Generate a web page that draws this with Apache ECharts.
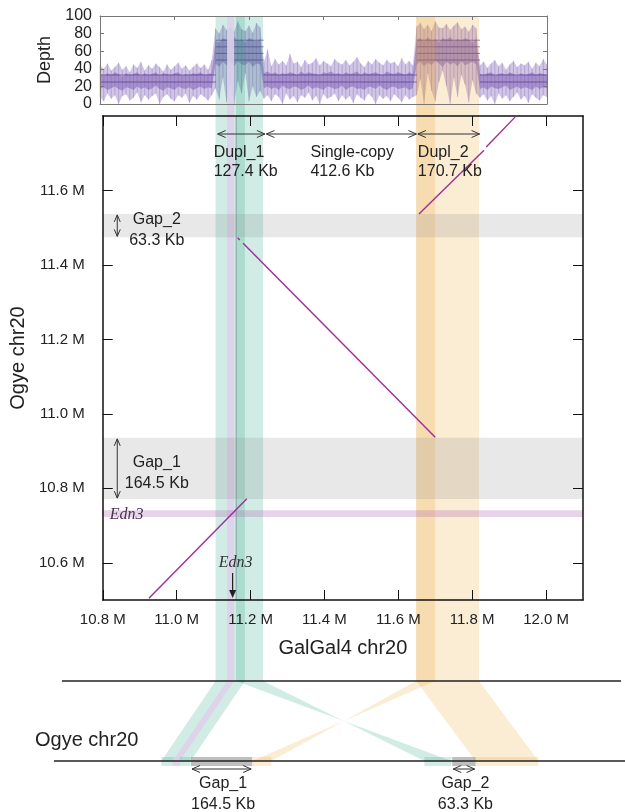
<!DOCTYPE html>
<html><head><meta charset="utf-8">
<script src="https://cdn.jsdelivr.net/npm/echarts@6/dist/echarts.min.js"></script>
<style>html,body{margin:0;padding:0;background:#fff}#c{width:625px;height:812px}</style>
</head><body><div id="c"></div>
<script>
// ================= DATA =================
const xTicks = [10.8, 11.0, 11.2, 11.4, 11.6, 11.8, 12.0];
const yTicks = [10.6, 10.8, 11.0, 11.2, 11.4, 11.6];
const depthTicks = [0, 20, 40, 60, 80, 100];

// read-depth track, one bin per 10 kb starting at 10.80 Mb
const depthStart = 10.80, depthStep = 0.01;
const depthHigh = [44,40,46,38,42,47,39,43,36,45,41,48,38,44,40,46,42,37,45,39,43,47,40,44,38,42,46,41,45,39,50,
  86,80,90,84,88,82,94,85,83,89,81,92,87,
  48,62,43,51,45,49,44,57,46,48,42,50,45,47,52,44,49,46,43,51,47,45,50,44,48,53,46,42,49,45,51,47,44,50,46,48,43,52,45,49,44,
  88,92,85,90,83,94,87,86,91,84,89,93,85,88,82,90,86,
  44,48,41,46,50,43,47,39,45,49,42,46,44,48,40,47,43,51,45];
const depthLow = [8,3,12,6,10,0,9,11,4,7,13,2,10,5,9,12,0,8,11,6,3,10,7,12,1,9,5,11,8,4,10,
  18,5,30,2,22,0,26,12,35,3,20,8,15,
  6,10,3,11,8,0,12,5,9,2,10,7,13,4,9,0,11,6,8,12,3,10,5,9,1,11,7,4,12,8,0,10,6,9,3,11,7,2,10,5,8,
  10,28,0,35,15,3,25,38,20,0,30,8,33,22,2,27,12,
  7,11,4,9,0,12,6,10,3,8,13,5,9,1,11,7,4,10,8];
const depthQ1 = [17,19,16,18,20,17,15,19,18,16,20,17,19,16,18,21,17,15,19,18,16,20,18,17,19,16,18,20,17,19,18,
  46,42,48,44,47,43,49,45,44,48,42,46,45,
  18,20,17,19,16,21,18,17,20,19,16,18,21,17,19,18,16,20,19,17,18,21,16,19,20,17,18,16,20,19,17,21,18,16,19,20,17,18,19,16,18,
  45,48,43,47,44,49,46,42,48,45,47,43,49,44,46,48,45,
  17,19,16,20,18,17,19,21,16,18,20,17,19,18,16,20,17,19,18];
const depthQ3 = [34,32,35,33,36,34,31,35,33,34,36,32,35,33,34,36,32,35,34,33,35,36,32,34,33,35,34,36,33,34,35,
  72,70,75,73,71,76,72,74,70,75,73,71,74,
  35,37,34,36,33,35,34,36,35,33,37,34,36,35,34,33,36,35,37,34,35,33,36,34,35,37,33,36,34,35,36,34,33,37,35,34,36,35,33,36,34,
  73,75,71,76,72,74,70,75,73,76,71,74,72,75,73,70,74,
  34,33,35,36,32,34,35,33,36,34,32,35,33,34,36,33,35,34,33];
// copy-number regions and their dominant depth levels
const regionStart = [10.80, 11.111, 11.239, 11.651, 11.820];
const regionEnd   = [11.111, 11.239, 11.651, 11.820, 12.00];
const regionCopies = [1, 2, 1, 2, 1];
const levelsSingle = [25, 33];
const levelsDup = [50, 57.5, 65, 72.5];

// segments (GalGal4 chr20 Mb)
const segName = ['Dupl_1', 'Single-copy', 'Dupl_2'];
const segSize = ['127.4 Kb', '412.6 Kb', '170.7 Kb'];
const segFrom = [11.111, 11.243, 11.653];
const segTo = [11.239, 11.649, 11.820];

// shaded duplication bands (GalGal4 Mb)
const greenBands = [[11.111, 11.190], [11.166, 11.239]];
const orangeBands = [[11.651, 11.702], [11.651, 11.820]];
const edn3Gal = [11.142, 11.161];
const edn3Ogye = [10.723, 10.741];

// assembly gaps in Ogye chr20
const gapNames = ['Gap_1', 'Gap_2'];
const gapSizes = ['164.5 Kb', '63.3 Kb'];
const gapFrom = [10.771, 11.474];
const gapTo = [10.9355, 11.537];

// alignment segments [galX1, ogyeY1, galX2, ogyeY2]
const alignSegs = [
  [10.925, 10.505, 11.190, 10.772],
  [11.165, 11.473, 11.171, 11.467],
  [11.180, 11.458, 11.700, 10.937],
  [11.656, 11.537, 11.832, 11.708],
  [11.838, 11.717, 11.916, 11.797]
];

// synteny ribbons: gal start, gal end, ogye at gal start, ogye at gal end, kind
const ribGalA = [11.111, 11.142, 11.166, 11.651, 11.651];
const ribGalB = [11.190, 11.161, 11.239, 11.702, 11.820];
const ribOgyA = [10.691, 10.722, 11.472, 10.987, 11.537];
const ribOgyB = [10.770, 10.741, 11.399, 10.936, 11.706];
const ribKind = ['green', 'edn3', 'green', 'orange', 'orange'];

// ================= STYLE / LAYOUT =================
const FONT = 'Liberation Sans, Arial, Helvetica, sans-serif';
const SERIF = 'Liberation Serif, Times New Roman, serif';
const K = 1.3 / 483;               // Mb per pixel (shared horizontal scale)
const ogyeShift = 0.274;            // horizontal placement of the Ogye track
const colors = {
  green: 'rgba(27,158,119,0.2)',
  orange: 'rgba(236,160,40,0.2)',
  edn3: 'rgba(222,208,234,0.9)',
  edn3H: 'rgba(170,100,175,0.28)',
  gap: 'rgba(128,128,128,0.18)',
  gapBox: 'rgba(128,128,128,0.5)',
  align: '#a02c96',
  ink: '#222'
};
const segLabelDx = [-4, 44, 0];

function chevH(x, y, dir, c) {
  return {type: 'polyline', shape: {points: [[x - dir * 8, y - 3.5], [x, y], [x - dir * 8, y + 3.5]]},
    style: {stroke: c, lineWidth: 1, fill: null}};
}
function chevV(x, y, dir, c) {
  return {type: 'polyline', shape: {points: [[x - 3, y - dir * 7], [x, y], [x + 3, y - dir * 7]]},
    style: {stroke: c, lineWidth: 1, fill: null}};
}
function dblH(x1, x2, y, c) {
  return [{type: 'line', shape: {x1: x1, y1: y, x2: x2, y2: y}, style: {stroke: c, lineWidth: 1}},
    chevH(x1, y, -1, c), chevH(x2, y, 1, c)];
}
function dblV(x, y1, y2, c) {
  return [{type: 'line', shape: {x1: x, y1: y1, x2: x, y2: y2}, style: {stroke: c, lineWidth: 1}},
    chevV(x, y1, -1, c), chevV(x, y2, 1, c)];
}
function txt(s, x, y, size, align, font, color, italic) {
  return {type: 'text', style: {text: s, x: x, y: y, fill: color || colors.ink,
    font: (italic ? 'italic ' : '') + size + 'px ' + (font || FONT), align: align || 'left', verticalAlign: 'middle'}};
}

// ================= RENDERERS =================
function renderDepth(params, api) {
  const n = depthHigh.length;
  const env = [], core = [];
  for (let i = 0; i < n; i++) env.push(api.coord([depthStart + i * depthStep, depthHigh[i]]));
  for (let i = n - 1; i >= 0; i--) env.push(api.coord([depthStart + i * depthStep, depthLow[i]]));
  for (let i = 0; i < n; i++) core.push(api.coord([depthStart + i * depthStep, depthQ3[i]]));
  for (let i = n - 1; i >= 0; i--) core.push(api.coord([depthStart + i * depthStep, depthQ1[i]]));
  const ch = [
    {type: 'polygon', shape: {points: env}, style: {fill: 'rgba(155,128,200,0.45)'}},
    {type: 'polygon', shape: {points: core}, style: {fill: 'rgba(120,90,175,0.5)'}}
  ];
  for (let i = 0; i < n; i++) {
    const a = api.coord([depthStart + i * depthStep, depthHigh[i]]), b = api.coord([depthStart + i * depthStep, depthLow[i]]);
    ch.push({type: 'line', shape: {x1: a[0], y1: a[1], x2: b[0], y2: b[1]}, style: {stroke: 'rgba(125,95,180,0.45)', lineWidth: 0.8}});
  }
  for (let r = 0; r < regionStart.length; r++) {
    const lv = regionCopies[r] === 1 ? levelsSingle : levelsDup;
    lv.forEach(v => {
      const a = api.coord([regionStart[r], v]), b = api.coord([regionEnd[r], v]);
      ch.push({type: 'line', shape: {x1: a[0], y1: a[1], x2: b[0], y2: b[1]}, style: {stroke: 'rgba(80,50,140,0.65)', lineWidth: 1}});
    });
  }
  return {type: 'group', children: ch};
}

function renderBands(params, api) {
  const ch = [];
  const rect = (a, b, fill) => {
    const p1 = api.coord([a, 1]), p2 = api.coord([b, 0]);
    ch.push({type: 'rect', shape: {x: p1[0], y: p1[1], width: p2[0] - p1[0], height: p2[1] - p1[1]}, style: {fill: fill}});
  };
  greenBands.forEach(b => rect(b[0], b[1], colors.green));
  orangeBands.forEach(b => rect(b[0], b[1], colors.orange));
  rect(edn3Gal[0], edn3Gal[1], colors.edn3);
  return {type: 'group', children: ch};
}

function renderMainShades(params, api) {
  const ch = [];
  const hrect = (a, b, fill) => {
    const p1 = api.coord([10.8, b]), p2 = api.coord([12.1, a]);
    ch.push({type: 'rect', shape: {x: p1[0], y: p1[1], width: p2[0] - p1[0], height: p2[1] - p1[1]}, style: {fill: fill}});
  };
  for (let g = 0; g < gapFrom.length; g++) hrect(gapFrom[g], gapTo[g], colors.gap);
  hrect(edn3Ogye[0], edn3Ogye[1], colors.edn3H);
  const t = api.coord([edn3Gal[1], 11.8]), b = api.coord([edn3Gal[1], 10.5]);
  ch.push({type: 'line', shape: {x1: t[0], y1: t[1], x2: b[0], y2: b[1]}, style: {stroke: 'rgba(120,130,160,0.7)', lineWidth: 1}});
  return {type: 'group', children: ch};
}

function renderAlign(params, api) {
  const s = alignSegs[params.dataIndex];
  const a = api.coord([s[0], s[1]]), b = api.coord([s[2], s[3]]);
  return {type: 'line', shape: {x1: a[0], y1: a[1], x2: b[0], y2: b[1]}, style: {stroke: colors.align, lineWidth: 1.4}};
}

function renderAnnot(params, api) {
  const ch = [];
  const top = api.coord([10.8, 11.8]);
  const yArrow = top[1] + 18;
  for (let i = 0; i < segFrom.length; i++) {
    const a = api.coord([segFrom[i], 11.8]), b = api.coord([segTo[i], 11.8]);
    ch.push(...dblH(a[0], b[0], yArrow, '#333'));
    ch.push(txt(segName[i], a[0] + segLabelDx[i], yArrow + 19, 16));
    ch.push(txt(segSize[i], a[0] + segLabelDx[i], yArrow + 38, 16));
  }
  for (let g = 0; g < gapFrom.length; g++) {
    const p1 = api.coord([10.8, gapTo[g]]), p2 = api.coord([10.8, gapFrom[g]]);
    ch.push(...dblV(p1[0] + 14.5, p1[1] + 1, p2[1] - 1, '#333'));
    const mid = (p1[1] + p2[1]) / 2;
    ch.push(txt(gapNames[g], p1[0] + 54, mid - 6, 16, 'center'));
    ch.push(txt(gapSizes[g], p1[0] + 54, mid + 15, 16, 'center'));
  }
  const eY = api.coord([10.8, (edn3Ogye[0] + edn3Ogye[1]) / 2]);
  ch.push(txt('Edn3', eY[0] + 7, eY[1] + 1, 16, 'left', SERIF, '#4a3050', true));
  const eX = api.coord([(edn3Gal[0] + edn3Gal[1]) / 2, 10.5]);
  ch.push(txt('Edn3', eX[0] + 3, eX[1] - 37, 16, 'center', SERIF, '#333', true));
  ch.push({type: 'line', shape: {x1: eX[0], y1: eX[1] - 27, x2: eX[0], y2: eX[1] - 6}, style: {stroke: '#222', lineWidth: 1.2}});
  ch.push({type: 'polygon', shape: {points: [[eX[0] - 3.5, eX[1] - 10], [eX[0] + 3.5, eX[1] - 10], [eX[0], eX[1] - 2]]}, style: {fill: '#222'}});
  return {type: 'group', children: ch};
}

function renderSynteny(params, api) {
  const ch = [];
  const boxes = [];
  for (let i = 0; i < ribGalA.length; i++) {
    const t1 = api.coord([ribGalA[i], 1]), t2 = api.coord([ribGalB[i], 1]);
    const b2 = api.coord([ribOgyB[i] + ogyeShift, 0]), b1 = api.coord([ribOgyA[i] + ogyeShift, 0]);
    ch.push({type: 'polygon', shape: {points: [t1, t2, b2, b1]}, style: {fill: colors[ribKind[i]]}});
    boxes.push({type: 'rect', shape: {x: Math.min(b1[0], b2[0]), y: b1[1] - 4, width: Math.abs(b2[0] - b1[0]), height: 9},
      style: {fill: colors[ribKind[i]]}});
  }
  ch.push(...boxes);
  for (let g = 0; g < gapFrom.length; g++) {
    const a = api.coord([gapFrom[g] + ogyeShift, 0]), b = api.coord([gapTo[g] + ogyeShift, 0]);
    ch.push({type: 'rect', shape: {x: a[0], y: a[1] - 4, width: b[0] - a[0], height: 9}, style: {fill: colors.gapBox}});
    ch.push(...dblH(a[0] + 1, b[0] - 1, a[1] + 8, '#333'));
    ch.push(txt(gapNames[g], (a[0] + b[0]) / 2 + 1.5, a[1] + 23, 16, 'center'));
    ch.push(txt(gapSizes[g], (a[0] + b[0]) / 2 + 1.5, a[1] + 44, 16, 'center'));
  }
  return {type: 'group', children: ch};
}

// ================= OPTION =================
const greyAxis = {lineStyle: {color: '#777', width: 1}};
const option = {
  animation: false,
  backgroundColor: '#fff',
  textStyle: {fontFamily: FONT},
  grid: [
    {left: 100, top: 16, width: 447, height: 88},
    {left: 100, top: 116, width: 483, height: 484},
    {left: 0, top: 681, width: 625, height: 80},
    {left: 100, top: 16, width: 483, height: 665}
  ],
  xAxis: [
    {gridIndex: 0, type: 'value', min: 10.8, max: 12.0, axisLine: {show: true, onZero: false, ...greyAxis},
      axisTick: {show: false}, axisLabel: {show: false}, splitLine: {show: false}, z: 10},
    {gridIndex: 1, type: 'value', min: 10.8, max: 12.1, position: 'bottom',
      axisLine: {show: true, onZero: false, lineStyle: {color: '#111', width: 1.5}},
      axisTick: {show: true, inside: true, length: 10, lineStyle: {color: '#111', width: 1}, customValues: xTicks},
      axisLabel: {show: true, customValues: xTicks, formatter: v => v.toFixed(1) + ' M', fontSize: 15, color: '#222', margin: 12, fontFamily: FONT},
      splitLine: {show: false}, name: 'GalGal4 chr20', nameLocation: 'middle', nameGap: 38,
      nameTextStyle: {fontSize: 20, color: '#222', fontFamily: FONT}, z: 10},
    {gridIndex: 1, type: 'value', min: 10.8, max: 12.1, position: 'top',
      axisLine: {show: true, onZero: false, lineStyle: {color: '#111', width: 1.5}},
      axisTick: {show: true, inside: true, length: 10, lineStyle: {color: '#111', width: 1}, customValues: xTicks},
      axisLabel: {show: false}, splitLine: {show: false}, z: 10},
    {gridIndex: 2, type: 'value', min: 10.8 - 100 * K, max: 10.8 + 525 * K, show: false},
    {gridIndex: 3, type: 'value', min: 10.8, max: 12.1, show: false},
    {gridIndex: 0, type: 'value', min: 10.8, max: 12.0, position: 'top', axisLine: {show: true, onZero: false, ...greyAxis},
      axisTick: {show: true, inside: true, length: 4, lineStyle: {color: '#777'}, customValues: xTicks},
      axisLabel: {show: false}, splitLine: {show: false}, z: 10}
  ],
  yAxis: [
    {gridIndex: 0, type: 'value', min: 0, max: 100, interval: 20, position: 'left',
      axisLine: {show: true, onZero: false, ...greyAxis}, axisTick: {show: true, inside: true, length: 4, lineStyle: {color: '#777'}},
      axisLabel: {fontSize: 16, color: '#222', margin: 8, fontFamily: FONT}, splitLine: {show: false},
      name: 'Depth', nameLocation: 'middle', nameGap: 32, nameTextStyle: {fontSize: 18, color: '#222', fontFamily: FONT}, z: 10},
    {gridIndex: 0, type: 'value', min: 0, max: 100, interval: 20, position: 'right',
      axisLine: {show: true, onZero: false, ...greyAxis}, axisTick: {show: true, inside: true, length: 4, lineStyle: {color: '#777'}},
      axisLabel: {show: false}, splitLine: {show: false}, z: 10},
    {gridIndex: 1, type: 'value', min: 10.5, max: 11.8, position: 'left',
      axisLine: {show: true, onZero: false, lineStyle: {color: '#111', width: 1.5}},
      axisTick: {show: true, inside: true, length: 10, lineStyle: {color: '#111', width: 1}, customValues: yTicks},
      axisLabel: {show: true, customValues: yTicks, formatter: v => v.toFixed(1) + ' M', fontSize: 15, color: '#222', margin: 18, fontFamily: FONT},
      splitLine: {show: false}, name: 'Ogye chr20', nameLocation: 'middle', nameGap: 65,
      nameTextStyle: {fontSize: 20, color: '#222', fontFamily: FONT}, z: 10},
    {gridIndex: 1, type: 'value', min: 10.5, max: 11.8, position: 'right',
      axisLine: {show: true, onZero: false, lineStyle: {color: '#111', width: 1.5}},
      axisTick: {show: true, inside: true, length: 10, lineStyle: {color: '#111', width: 1}, customValues: yTicks},
      axisLabel: {show: false}, splitLine: {show: false}, z: 10},
    {gridIndex: 2, type: 'value', min: 0, max: 1, show: false},
    {gridIndex: 3, type: 'value', min: 0, max: 1, show: false}
  ],
  series: [
    {type: 'custom', xAxisIndex: 0, yAxisIndex: 0, z: 2, silent: true, data: [[10.8, 0]], renderItem: renderDepth},
    {type: 'custom', xAxisIndex: 4, yAxisIndex: 5, z: 3, silent: true, data: [[10.8, 0]], renderItem: renderBands},
    {type: 'custom', xAxisIndex: 1, yAxisIndex: 2, z: 4, silent: true, data: [[10.8, 10.5]], renderItem: renderMainShades},
    {type: 'custom', xAxisIndex: 1, yAxisIndex: 2, z: 6, silent: true, data: alignSegs, renderItem: renderAlign},
    {type: 'custom', xAxisIndex: 1, yAxisIndex: 2, z: 7, silent: true, data: [[10.8, 10.5]], renderItem: renderAnnot},
    {type: 'custom', xAxisIndex: 3, yAxisIndex: 4, z: 3, silent: true, data: [[10.8, 0]], renderItem: renderSynteny}
  ],
  graphic: [
    {type: 'line', z: 100, shape: {x1: 62, y1: 681, x2: 621, y2: 681}, style: {stroke: '#222', lineWidth: 1.3}},
    {type: 'line', z: 100, shape: {x1: 54, y1: 761, x2: 625, y2: 761}, style: {stroke: '#222', lineWidth: 1.3}},
    {type: 'text', z: 100, left: 35, top: 730, style: {text: 'Ogye chr20', font: '20px ' + FONT, fill: '#222'}}
  ]
};
const chart = echarts.init(document.getElementById('c'), null, {renderer: 'canvas'});
chart.setOption(option);
</script>
</body></html>
